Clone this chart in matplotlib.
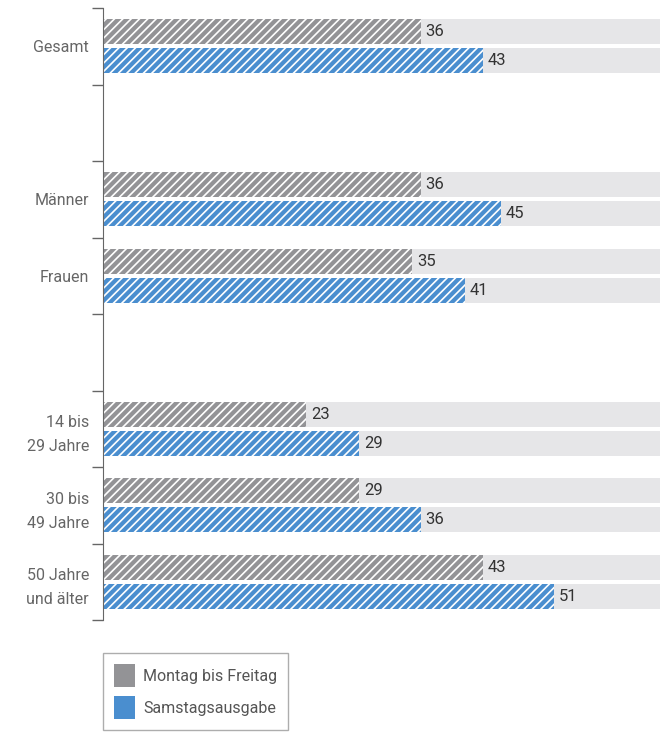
import matplotlib.pyplot as plt
from matplotlib.patches import Patch

plt.rcParams['font.family'] = ['Roboto', 'DejaVu Sans']
plt.rcParams['hatch.linewidth'] = 1.2

# data
categories = ["Gesamt", "", "Männer", "Frauen", "", "14 bis\n29 Jahre", "30 bis\n49 Jahre", "50 Jahre\nund älter"]
werktag = [36, None, 36, 35, None, 23, 29, 43]
samstag = [43, None, 45, 41, None, 29, 36, 51]
series_names = ["Montag bis Freitag", "Samstagsausgabe"]
colors = ["#939396", "#4a8ecf"]
x_max = 63

fig = plt.figure(figsize=(6.63, 7.33), dpi=100)
ax = fig.add_axes([103 / 663, 1 - 620 / 733, 557 / 663, 612 / 733])

bar_h = 0.33
offset = 0.19
for i, (w, s) in enumerate(zip(werktag, samstag)):
    if w is None:
        continue
    center = i + 0.5
    for val, col, y in [(w, colors[0], center - offset), (s, colors[1], center + offset)]:
        # light background track
        ax.barh(y, x_max, height=bar_h, color="#e6e6e8", linewidth=0)
        ax.barh(y, val, height=bar_h, color=col, linewidth=0)
        # white diagonal strokes for the sketchy look
        ax.barh(y, val, height=bar_h, fill=False, edgecolor="white", linewidth=0, hatch="////")
        ax.text(val + 0.5, y, str(val), va="center", ha="left", fontsize=12, color="#333333")

ax.set_xlim(0, x_max)
ax.set_ylim(len(categories), 0)
ax.set_yticks(range(len(categories) + 1))
ax.set_yticklabels([])
ax.set_yticks([i + 0.5 for i in range(len(categories))], minor=True)
ax.set_yticklabels(categories, minor=True, fontsize=11.5, color="#666666", ha="right",
                   multialignment="right", linespacing=1.75)
ax.tick_params(axis="y", which="major", length=8, width=1, color="#666666")
ax.tick_params(axis="y", which="minor", length=0, pad=10)
ax.set_xticks([])
for side in ["top", "right", "bottom"]:
    ax.spines[side].set_visible(False)
ax.spines["left"].set_color("#666666")

handles = [Patch(facecolor=c, edgecolor="none") for c in colors]
fig.legend(handles, series_names, loc="upper left", bbox_to_anchor=(103 / 663, 1 - 653 / 733),
           borderaxespad=0, fontsize=11.5, frameon=True, fancybox=False, edgecolor="#999999",
           handlelength=1.3, handleheight=1.8, labelspacing=0.6, borderpad=0.7,
           handletextpad=0.5, labelcolor="#555555")

fig.savefig("out.png", dpi=100)
